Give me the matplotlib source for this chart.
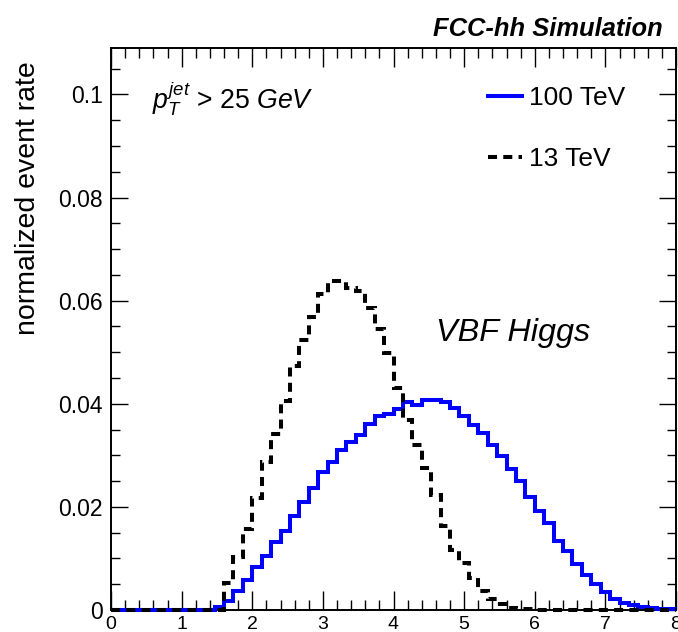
import numpy as np
import matplotlib
matplotlib.use("Agg")
import matplotlib.pyplot as plt
from matplotlib.lines import Line2D

plt.rcParams['font.family'] = ['Liberation Sans', 'DejaVu Sans']
plt.rcParams['mathtext.fontset'] = 'custom'
plt.rcParams['mathtext.rm'] = 'Liberation Sans'
plt.rcParams['mathtext.it'] = 'Liberation Sans:italic'
plt.rcParams['mathtext.bf'] = 'Liberation Sans:bold'
plt.rcParams['lines.scale_dashes'] = False

# ---------------- data ----------------
x_min, x_max, n_bins = 0.0, 8.0, 60
bin_edges = np.linspace(x_min, x_max, n_bins + 1)

rate_100TeV = [0, 0, 0, 0, 0, 0, 0, 0, 0, 0,
               0, 0.0005, 0.0018, 0.0036, 0.0058, 0.0083, 0.0104, 0.0131, 0.0153, 0.0183,
               0.0210, 0.0236, 0.0267, 0.0287, 0.0311, 0.0326, 0.0339, 0.0360, 0.0377, 0.0380,
               0.0389, 0.0403, 0.0398, 0.0407, 0.0408, 0.0404, 0.0392, 0.0377, 0.0359, 0.0343,
               0.0320, 0.0298, 0.0273, 0.0250, 0.0219, 0.0192, 0.0169, 0.0133, 0.0115, 0.0090,
               0.0067, 0.0050, 0.0035, 0.0021, 0.0014, 0.0009, 0.0005, 0.0003, 0.0002, 0.0001]

rate_13TeV = [0, 0, 0, 0, 0, 0, 0, 0, 0, 0,
              0, 0, 0.0053, 0.0102, 0.0157, 0.0217, 0.0288, 0.0341, 0.0405, 0.0474,
              0.0524, 0.0568, 0.0612, 0.0639, 0.0639, 0.0625, 0.0618, 0.0586, 0.0545, 0.0498,
              0.0431, 0.0369, 0.0320, 0.0275, 0.0223, 0.0162, 0.0117, 0.0091, 0.0062, 0.0037,
              0.0021, 0.0012, 0.0004, 0.0001, 0.0001, 0, 0, 0, 0, 0,
              0, 0, 0, 0, 0, 0, 0, 0, 0, 0]

x_ticks = [0, 1, 2, 3, 4, 5, 6, 7, 8]
x_tick_labels = ['0', '1', '2', '3', '4', '5', '6', '7', '8']
y_ticks = [0, 0.02, 0.04, 0.06, 0.08, 0.1]
y_tick_labels = ['0', '0.02', '0.04', '0.06', '0.08', '0.1']
y_max = 0.109

labels = ['100 TeV', '13 TeV']

# ---------------- figure ----------------
W, H = 678, 632
fig = plt.figure(figsize=(W / 100, H / 100), dpi=100)
ax = fig.add_axes([111 / W, (H - 610) / H, (676 - 111) / W, (610 - 48) / H])

ax.stairs(rate_100TeV, bin_edges, baseline=None, color='#0000ff', lw=2.9,
          clip_on=False, zorder=3)
ax.stairs(rate_13TeV, bin_edges, baseline=None, color='black', lw=2.9,
          linestyle=(0, (6.5, 4.5)), clip_on=False, zorder=4)

ax.set_xlim(x_min, x_max)
ax.set_ylim(0, y_max)

ax.set_xticks(x_ticks)
ax.set_xticklabels(x_tick_labels)
ax.set_xticks(np.arange(0, 8.01, 0.2), minor=True)
ax.set_yticks(y_ticks)
ax.set_yticklabels(y_tick_labels)
ax.set_yticks(np.arange(0, 0.1091, 0.005), minor=True)

ax.tick_params(which='both', direction='in', top=True, right=True, width=1.0,
               color='black')
ax.tick_params(which='major', axis='x', length=13.5, labelsize=14, pad=4)
ax.tick_params(which='minor', axis='x', length=7)
ax.tick_params(which='major', axis='y', length=12.5, labelsize=16.5, pad=6)
ax.tick_params(which='minor', axis='y', length=6.5)
for sp in ax.spines.values():
    sp.set_linewidth(1.4)

ax.set_ylabel('normalized event rate', fontsize=20.5)
ax.yaxis.set_label_coords(-0.124, 0.733)

# legend
handles = [Line2D([], [], color='#0000ff', lw=2.9),
           Line2D([], [], color='black', lw=2.9, linestyle=(0, (6.5, 4.5)))]
ax.legend(handles, labels, loc='upper left', frameon=False, fontsize=19,
          bbox_to_anchor=(488 / W, (H - 86) / H), bbox_transform=fig.transFigure,
          borderpad=0, borderaxespad=0, handlelength=1.3, handletextpad=0.25,
          labelspacing=1.4)

# annotations
ax.text((152 - 111) / 565, (610 - 108) / 562, r'$p_{T}^{jet}$ > 25 $GeV$',
        transform=ax.transAxes, fontsize=19.2, ha='left', va='baseline')
ax.text((436 - 111) / 565, (610 - 341) / 562, 'VBF Higgs', style='italic',
        transform=ax.transAxes, fontsize=23.3, ha='left', va='baseline')
fig.text(663 / W, (H - 36) / H, 'FCC-hh Simulation', fontsize=18.4,
         fontweight='bold', style='italic', ha='right', va='baseline')

fig.savefig('out.png', dpi=100)
